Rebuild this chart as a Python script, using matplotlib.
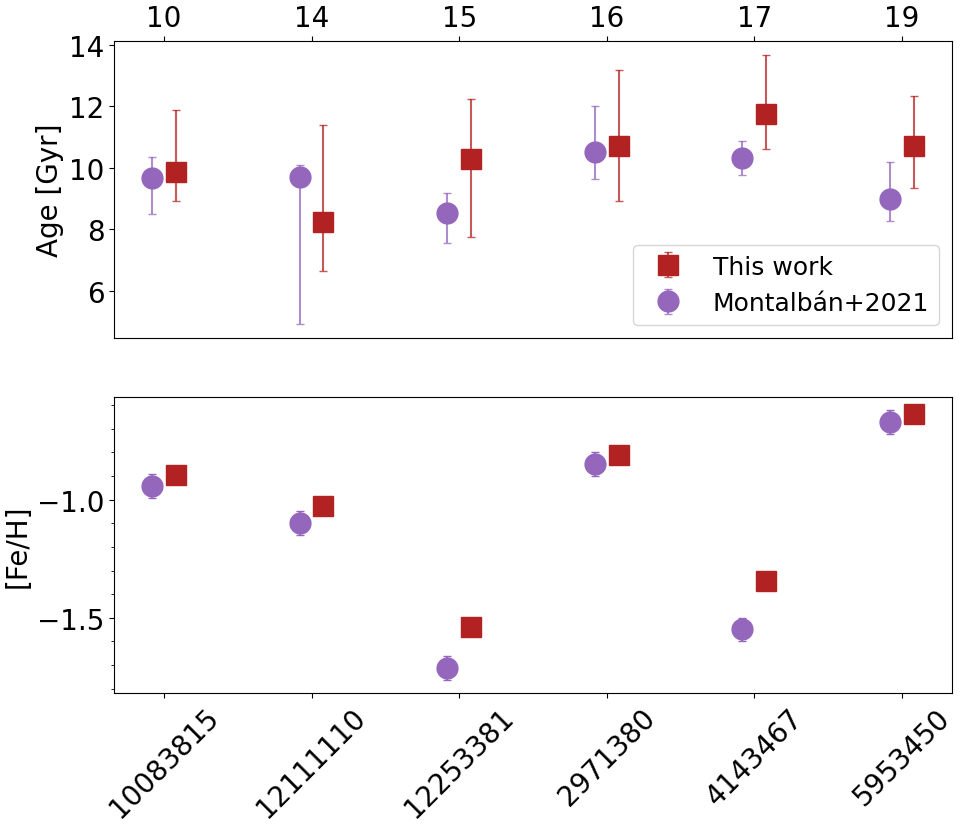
import numpy as np
import matplotlib
matplotlib.use('Agg')
import matplotlib.pyplot as plt
from matplotlib.ticker import MultipleLocator

# star IDs and the numbers shown on top
star_ids = ['10083815', '12111110', '12253381', '2971380', '4143467', '5953450']
top_labels = ['10', '14', '15', '16', '17', '19']

# ages [Gyr]
age_this = [9.87, 8.22, 10.27, 10.71, 11.75, 10.71]
age_this_lo = [0.97, 1.59, 2.51, 1.81, 1.16, 1.36]
age_this_hi = [2.01, 3.17, 1.97, 2.47, 1.92, 1.62]

age_mont = [9.65, 9.71, 8.52, 10.52, 10.30, 8.97]
age_mont_lo = [1.17, 4.80, 0.98, 0.88, 0.55, 0.72]
age_mont_hi = [0.71, 0.37, 0.67, 1.49, 0.58, 1.22]

# metallicity
feh_this = [-0.896, -1.027, -1.538, -0.811, -1.344, -0.638]
feh_mont = [-0.942, -1.099, -1.711, -0.849, -1.549, -0.672]
feh_mont_err = [0.05, 0.05, 0.05, 0.05, 0.05, 0.05]

x = np.arange(len(star_ids))
off = 0.08

red = '#b22222'
purple = '#9467bd'

fig, (ax1, ax2) = plt.subplots(2, 1, figsize=(9.62, 8.29), dpi=100)
fig.subplots_adjust(left=0.1188, right=0.9893, top=0.949, bottom=0.1628, hspace=0.199)

ax1.errorbar(x + off, age_this, yerr=[age_this_lo, age_this_hi], fmt='s', ms=15,
             color=red, ecolor=red, elinewidth=1.5, capsize=3, alpha=1,
             label='This work')
ax1.errorbar(x - off, age_mont, yerr=[age_mont_lo, age_mont_hi], fmt='o', ms=15,
             color=purple, ecolor=purple, elinewidth=1.5, capsize=3,
             label='Montalbán+2021')
for line in ax1.collections:
    line.set_alpha(0.75)
for cont in ax1.containers:
    for cap in cont[1]:
        cap.set_alpha(0.75)

ax1.xaxis.tick_top()
ax1.set_xticks(x)
ax1.set_xticklabels(top_labels)
ax1.set_ylabel('Age [Gyr]', fontsize=20)
ax1.tick_params(axis='both', labelsize=20)
ax1.legend(loc='lower right', fontsize=18)

ax2.errorbar(x + off, feh_this, fmt='s', ms=15, color=red)
ax2.errorbar(x - off, feh_mont, yerr=feh_mont_err, fmt='o', ms=15,
             color=purple, ecolor=purple, elinewidth=1.5, capsize=3)
ax2.set_xticks(x)
ax2.set_xticklabels(star_ids, rotation=45)
ax2.yaxis.set_major_locator(MultipleLocator(0.5))
ax2.yaxis.set_minor_locator(MultipleLocator(0.1))
ax2.set_ylabel('[Fe/H]', fontsize=20)
ax2.tick_params(axis='both', labelsize=20)

ax1.set_xlim(ax2.get_xlim())

fig.savefig('out.png', dpi=100)
